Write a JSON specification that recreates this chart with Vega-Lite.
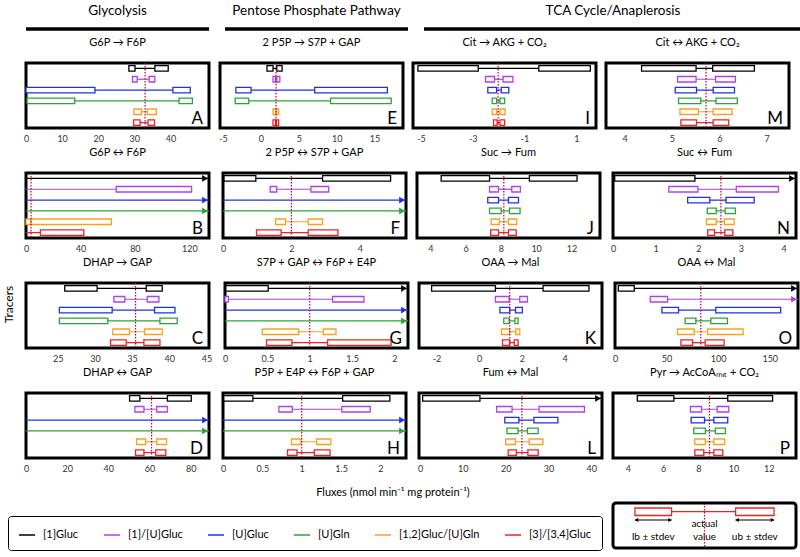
{
"padding":{"left":0,"top":3,"right":0,"bottom":0},
"datasets":{
"flux":[
{"p":"A","t":"[1]Gluc","a0":28.5,"a1":30.2,"b0":35.7,"b1":39.4},
{"p":"A","t":"[1]/[U]Gluc","a0":29.5,"a1":30.8,"b0":34.1,"b1":35.7},
{"p":"A","t":"[U]Gluc","a0":0,"a1":19.1,"b0":40.7,"b1":45.5},
{"p":"A","t":"[U]Gln","a0":0.3,"a1":13.5,"b0":42.4,"b1":46.1},
{"p":"A","t":"[1,2]Gluc/[U]Gln","a0":29.9,"a1":32.0,"b0":33.6,"b1":36.1},
{"p":"A","t":"[3]/[3,4]Gluc","a0":29.8,"a1":31.6,"b0":33.8,"b1":35.6},
{"p":"B","t":"[1]Gluc","a0":0,"b1":134.5,"o":true},
{"p":"B","t":"[1]/[U]Gluc","a0":0,"b0":66.3,"b1":121.7},
{"p":"B","t":"[U]Gluc","a0":0,"b1":134.5,"o":true},
{"p":"B","t":"[U]Gln","a0":0,"b1":134.5,"o":true},
{"p":"B","t":"[1,2]Gluc/[U]Gln","a0":0,"a1":3.7,"b0":3.7,"b1":62.8},
{"p":"B","t":"[3]/[3,4]Gluc","a0":0,"b0":10.6,"b1":42.5},
{"p":"C","t":"[1]Gluc","a0":25.94,"a1":30.3,"b0":36.9,"b1":39.06},
{"p":"C","t":"[1]/[U]Gluc","a0":32.55,"a1":34.03,"b0":37.04,"b1":38.61},
{"p":"C","t":"[U]Gluc","a0":25.22,"a1":32.32,"b0":38.03,"b1":40.77},
{"p":"C","t":"[U]Gln","a0":25.22,"a1":31.74,"b0":38.75,"b1":41.08},
{"p":"C","t":"[1,2]Gluc/[U]Gln","a0":32.41,"a1":34.66,"b0":36.68,"b1":39.06},
{"p":"C","t":"[3]/[3,4]Gluc","a0":32.1,"a1":34.21,"b0":36.59,"b1":38.75},
{"p":"D","t":"[1]Gluc","a0":50.3,"a1":55.3,"b0":68.7,"b1":80.3},
{"p":"D","t":"[1]/[U]Gluc","a0":52.9,"a1":57.3,"b0":63.5,"b1":68.7},
{"p":"D","t":"[U]Gluc","a0":0,"b1":88.9,"o":true},
{"p":"D","t":"[U]Gln","a0":0,"b1":88.9,"o":true},
{"p":"D","t":"[1,2]Gluc/[U]Gln","a0":53.7,"a1":58.1,"b0":63.5,"b1":68.3},
{"p":"D","t":"[3]/[3,4]Gluc","a0":53.2,"a1":57.3,"b0":63.0,"b1":67.9},
{"p":"E","t":"[1]Gluc","a0":0.8,"a1":1.6,"b0":2.1,"b1":2.8},
{"p":"E","t":"[1]/[U]Gluc","a0":1.6,"a1":1.95,"b0":2.1,"b1":2.5},
{"p":"E","t":"[U]Gluc","a0":-3.3,"a1":-1.3,"b0":7.1,"b1":16.7},
{"p":"E","t":"[U]Gln","a0":-3.4,"a1":-1.6,"b0":9.2,"b1":17.2},
{"p":"E","t":"[1,2]Gluc/[U]Gln","a0":1.6,"a1":1.95,"b0":2.05,"b1":2.35},
{"p":"E","t":"[3]/[3,4]Gluc","a0":1.6,"a1":1.95,"b0":2.05,"b1":2.35},
{"p":"F","t":"[1]Gluc","a0":0.03,"a1":0.96,"b0":2.91,"b1":4.9},
{"p":"F","t":"[1]/[U]Gluc","a0":1.38,"a1":1.57,"b0":2.57,"b1":3.09},
{"p":"F","t":"[U]Gluc","a0":0,"b1":5.35,"o":true},
{"p":"F","t":"[U]Gln","a0":0,"b1":5.35,"o":true},
{"p":"F","t":"[1,2]Gluc/[U]Gln","a0":1.54,"a1":1.83,"b0":2.49,"b1":2.91},
{"p":"F","t":"[3]/[3,4]Gluc","a0":0.98,"a1":1.7,"b0":2.49,"b1":3.36},
{"p":"G","t":"[1]Gluc","a0":0.01,"a1":0.51,"b1":2.16,"o":true},
{"p":"G","t":"[1]/[U]Gluc","a0":0,"a1":0.04,"b0":1.27,"b1":1.64},
{"p":"G","t":"[U]Gluc","a0":0,"b1":2.16,"o":true},
{"p":"G","t":"[U]Gln","a0":0,"b1":2.16,"o":true},
{"p":"G","t":"[1,2]Gluc/[U]Gln","a0":0.44,"a1":0.87,"b0":1.16,"b1":1.31},
{"p":"G","t":"[3]/[3,4]Gluc","a0":0.49,"a1":0.79,"b0":1.21,"b1":1.96},
{"p":"H","t":"[1]Gluc","a0":0.01,"a1":0.38,"b0":1.52,"b1":2.12},
{"p":"H","t":"[1]/[U]Gluc","a0":0.71,"a1":0.88,"b0":1.51,"b1":1.87},
{"p":"H","t":"[U]Gluc","a0":0,"b1":2.325,"o":true},
{"p":"H","t":"[U]Gln","a0":0,"b1":2.325,"o":true},
{"p":"H","t":"[1,2]Gluc/[U]Gln","a0":0.87,"a1":0.99,"b0":1.19,"b1":1.37},
{"p":"H","t":"[3]/[3,4]Gluc","a0":0.82,"a1":0.94,"b0":1.16,"b1":1.36},
{"p":"I","t":"[1]Gluc","a0":-5.12,"a1":-2.79,"b0":-0.45,"b1":1.54},
{"p":"I","t":"[1]/[U]Gluc","a0":-2.51,"a1":-2.16,"b0":-1.83,"b1":-1.45},
{"p":"I","t":"[U]Gluc","a0":-2.42,"a1":-2.08,"b0":-1.9,"b1":-1.61},
{"p":"I","t":"[U]Gln","a0":-2.25,"a1":-2.08,"b0":-1.95,"b1":-1.77},
{"p":"I","t":"[1,2]Gluc/[U]Gln","a0":-2.25,"a1":-2.08,"b0":-1.95,"b1":-1.75},
{"p":"I","t":"[3]/[3,4]Gluc","a0":-2.2,"a1":-2.06,"b0":-1.95,"b1":-1.77},
{"p":"J","t":"[1]Gluc","a0":4.62,"a1":7.36,"b0":9.62,"b1":12.32},
{"p":"J","t":"[1]/[U]Gluc","a0":7.36,"a1":7.87,"b0":8.62,"b1":9.11},
{"p":"J","t":"[U]Gluc","a0":7.26,"a1":7.87,"b0":8.43,"b1":9.0},
{"p":"J","t":"[U]Gln","a0":7.36,"a1":8.02,"b0":8.49,"b1":9.09},
{"p":"J","t":"[1,2]Gluc/[U]Gln","a0":7.45,"a1":7.92,"b0":8.43,"b1":8.9},
{"p":"J","t":"[3]/[3,4]Gluc","a0":7.42,"a1":7.87,"b0":8.43,"b1":8.87},
{"p":"K","t":"[1]Gluc","a0":-2.23,"a1":0.76,"b0":2.99,"b1":5.14},
{"p":"K","t":"[1]/[U]Gluc","a0":0.76,"a1":1.4,"b0":1.9,"b1":2.26},
{"p":"K","t":"[U]Gluc","a0":0.97,"a1":1.43,"b0":1.7,"b1":2.02},
{"p":"K","t":"[U]Gln","a0":1.15,"a1":1.4,"b0":1.67,"b1":1.82},
{"p":"K","t":"[1,2]Gluc/[U]Gln","a0":1.04,"a1":1.43,"b0":1.71,"b1":1.9},
{"p":"K","t":"[3]/[3,4]Gluc","a0":1.09,"a1":1.43,"b0":1.64,"b1":1.82},
{"p":"L","t":"[1]Gluc","a0":0.62,"a1":14,"b1":42.5,"o":true},
{"p":"L","t":"[1]/[U]Gluc","a0":17.9,"a1":21.5,"b0":27.8,"b1":38.4},
{"p":"L","t":"[U]Gluc","a0":19.8,"a1":23.1,"b0":26.6,"b1":32.2},
{"p":"L","t":"[U]Gln","a0":20.3,"a1":22.9,"b0":25.1,"b1":27.6},
{"p":"L","t":"[1,2]Gluc/[U]Gln","a0":20.0,"a1":22.3,"b0":25.5,"b1":28.7},
{"p":"L","t":"[3]/[3,4]Gluc","a0":20.6,"a1":22.5,"b0":25.2,"b1":27.6},
{"p":"M","t":"[1]Gluc","a0":4.36,"a1":5.51,"b0":5.86,"b1":6.74},
{"p":"M","t":"[1]/[U]Gluc","a0":5.12,"a1":5.51,"b0":5.92,"b1":6.34},
{"p":"M","t":"[U]Gluc","a0":5.07,"a1":5.52,"b0":5.87,"b1":6.32},
{"p":"M","t":"[U]Gln","a0":5.14,"a1":5.61,"b0":5.93,"b1":6.38},
{"p":"M","t":"[1,2]Gluc/[U]Gln","a0":5.17,"a1":5.56,"b0":5.87,"b1":6.27},
{"p":"M","t":"[3]/[3,4]Gluc","a0":5.19,"a1":5.52,"b0":5.87,"b1":6.2},
{"p":"N","t":"[1]Gluc","a0":0.04,"a1":1.92,"b1":4.29,"o":true},
{"p":"N","t":"[1]/[U]Gluc","a0":1.31,"a1":1.99,"b0":2.89,"b1":3.88},
{"p":"N","t":"[U]Gluc","a0":1.75,"a1":2.27,"b0":2.65,"b1":3.31},
{"p":"N","t":"[U]Gln","a0":2.21,"a1":2.42,"b0":2.63,"b1":2.87},
{"p":"N","t":"[1,2]Gluc/[U]Gln","a0":2.19,"a1":2.42,"b0":2.61,"b1":2.84},
{"p":"N","t":"[3]/[3,4]Gluc","a0":2.22,"a1":2.38,"b0":2.62,"b1":2.81},
{"p":"O","t":"[1]Gluc","a0":3.2,"a1":18.7,"b1":177.4,"o":true},
{"p":"O","t":"[1]/[U]Gluc","a0":34.2,"a1":51,"b1":177.4,"o":true},
{"p":"O","t":"[U]Gluc","a0":45.5,"a1":61.6,"b0":97.7,"b1":160.6},
{"p":"O","t":"[U]Gln","a0":68,"a1":78.4,"b0":92.9,"b1":109},
{"p":"O","t":"[1,2]Gluc/[U]Gln","a0":60.6,"a1":76.8,"b0":89.7,"b1":124.2},
{"p":"O","t":"[3]/[3,4]Gluc","a0":63.9,"a1":75.2,"b0":87.4,"b1":105.8},
{"p":"P","t":"[1]Gluc","a0":4.53,"a1":6.61,"b0":9.67,"b1":12.22},
{"p":"P","t":"[1]/[U]Gluc","a0":7.55,"a1":8.18,"b0":9.07,"b1":9.73},
{"p":"P","t":"[U]Gluc","a0":7.59,"a1":8.35,"b0":8.88,"b1":9.67},
{"p":"P","t":"[U]Gln","a0":7.74,"a1":8.4,"b0":8.97,"b1":9.54},
{"p":"P","t":"[1,2]Gluc/[U]Gln","a0":7.8,"a1":8.4,"b0":8.88,"b1":9.5},
{"p":"P","t":"[3]/[3,4]Gluc","a0":7.8,"a1":8.31,"b0":8.88,"b1":9.39}
],
"info":[
{"p":"A","v":33.0},{"p":"B","v":3.7},{"p":"C","v":35.47},{"p":"D","v":61.0},
{"p":"E","v":2.0},{"p":"F","v":2.0},{"p":"G","v":1.0},{"p":"H","v":1.0},
{"p":"I","v":-2.02},{"p":"J","v":8.17},{"p":"K","v":1.43},{"p":"L","v":23.8},
{"p":"M","v":5.72},{"p":"N","v":2.53},{"p":"O","v":83.2},{"p":"P","v":8.63}
],
"key":[{"lb0":12,"lb1":32,"ub0":67,"ub1":88,"act":50}]
},
"spacing":0,
"vconcat":[
{"spacing":12,"hconcat":[
{"width":183,"height":32,"view":{"stroke":null},"data":{"values":[{"s":"Glycolysis"}]},"layer":[
{"mark":{"type":"rule","strokeWidth":3.5,"color":"black"},"encoding":{"y":{"datum":0.1875,"type":"quantitative","scale":{"domain":[0,1],"nice":false,"zero":false},"axis":{"title":"T","titleOpacity":0,"labels":false,"ticks":false,"domain":false,"titleX":-18,"titleY":16,"titleAlign":"center","titleBaseline":"middle","titleFontSize":12}}}},
{"mark":{"type":"text","fontSize":13.5,"baseline":"bottom","align":"center"},"encoding":{"text":{"field":"s"},"x":{"datum":0.5,"type":"quantitative","scale":{"domain":[0,1],"nice":false,"zero":false},"axis":null},"y":{"datum":0.531,"type":"quantitative"}}}]},
{"width":183,"height":32,"view":{"stroke":null},"data":{"values":[{"s":"Pentose Phosphate Pathway"}]},"layer":[
{"mark":{"type":"rule","strokeWidth":3.5,"color":"black"},"encoding":{"y":{"datum":0.1875,"type":"quantitative","scale":{"domain":[0,1],"nice":false,"zero":false},"axis":null}}},
{"mark":{"type":"text","fontSize":13.5,"baseline":"bottom","align":"center"},"encoding":{"text":{"field":"s"},"x":{"datum":0.5,"type":"quantitative","scale":{"domain":[0,1],"nice":false,"zero":false},"axis":null},"y":{"datum":0.531,"type":"quantitative","axis":null}}}]},
{"width":378,"height":32,"view":{"stroke":null},"data":{"values":[{"s":"TCA Cycle/Anaplerosis"}]},"layer":[
{"mark":{"type":"rule","strokeWidth":3.5,"color":"black"},"encoding":{"y":{"datum":0.1875,"type":"quantitative","scale":{"domain":[0,1],"nice":false,"zero":false},"axis":null}}},
{"mark":{"type":"text","fontSize":13.5,"baseline":"bottom","align":"center"},"encoding":{"text":{"field":"s"},"x":{"datum":0.5,"type":"quantitative","scale":{"domain":[0,1],"nice":false,"zero":false},"axis":null},"y":{"datum":0.531,"type":"quantitative","axis":null}}}]}
]},

{"spacing":6,"hconcat":[
{"width":183,"height":65,"title":"G6P → F6P","data":{"name":"flux"},"transform":[{"filter":"datum.p==='A'"}],"layer":[
{"mark":{"type":"rule","strokeWidth":1.2},"encoding":{"x":{"field":"a0","type":"quantitative","scale":{"domain":[0,50.7],"nice":false,"zero":false},"axis":{"values":[0,10,20,30,40],"labelExpr":"''+datum.value","title":null}},"x2":{"field":"b1"},"y":{"field":"t","type":"nominal","scale":{"domain":["[1]Gluc","[1]/[U]Gluc","[U]Gluc","[U]Gln","[1,2]Gluc/[U]Gln","[3]/[3,4]Gluc"]},"axis":{"title":"T","titleOpacity":0,"labels":false,"ticks":false,"domain":false,"titleX":-18,"titleY":30,"titleAlign":"center","titleBaseline":"middle","titleFontSize":12}},"stroke":{"field":"t","type":"nominal","scale":{"domain":["[1]Gluc","[1]/[U]Gluc","[U]Gluc","[U]Gln","[1,2]Gluc/[U]Gln","[3]/[3,4]Gluc"],"range":["#000000","#b040ee","#2030e6","#2ea23a","#f8a020","#f02222"]},"legend":{"title":null,"orient":"none","legendX":-18,"legendY":513,"direction":"horizontal","symbolType":"stroke","symbolSize":256,"symbolStrokeWidth":1.5,"labelFontSize":11,"labelOffset":7,"columnPadding":22,"padding":10,"strokeColor":"black","cornerRadius":3}}}},
{"transform":[{"filter":"isValid(datum.a1)"}],"mark":{"type":"bar","size":5.5,"fill":"white","strokeWidth":1.3},"encoding":{"x":{"field":"a0","type":"quantitative"},"x2":{"field":"a1"},"y":{"field":"t","type":"nominal"},"stroke":{"field":"t","type":"nominal"}}},
{"transform":[{"filter":"isValid(datum.b0)"}],"mark":{"type":"bar","size":5.5,"fill":"white","strokeWidth":1.3},"encoding":{"x":{"field":"b0","type":"quantitative"},"x2":{"field":"b1"},"y":{"field":"t","type":"nominal"},"stroke":{"field":"t","type":"nominal"}}},
{"data":{"name":"info"},"transform":[{"filter":"datum.p==='A'"}],"mark":{"type":"rule","color":"#c0003c","strokeDash":[1.5,1.5],"strokeWidth":1.2},"encoding":{"x":{"field":"v","type":"quantitative"}}},
{"data":{"name":"info"},"transform":[{"filter":"datum.p==='A'"}],"mark":{"type":"text","align":"right","baseline":"alphabetic","dx":-6,"dy":1,"fontSize":17},"encoding":{"text":{"field":"p"},"x":{"datum":50.7,"type":"quantitative"},"y":{"datum":"[3]/[3,4]Gluc","type":"nominal"}}}]},
{"width":183,"height":65,"title":"2 P5P → S7P + GAP","data":{"name":"flux"},"transform":[{"filter":"datum.p==='E'"}],"layer":[
{"mark":{"type":"rule","strokeWidth":1.2},"encoding":{"x":{"field":"a0","type":"quantitative","scale":{"domain":[-5.4,18.76],"nice":false,"zero":false},"axis":{"values":[-5,0,5,10,15],"labelExpr":"''+datum.value","title":null}},"x2":{"field":"b1"},"y":{"field":"t","type":"nominal","scale":{"domain":["[1]Gluc","[1]/[U]Gluc","[U]Gluc","[U]Gln","[1,2]Gluc/[U]Gln","[3]/[3,4]Gluc"]},"axis":null},"stroke":{"field":"t","type":"nominal"}}},
{"transform":[{"filter":"isValid(datum.a1)"}],"mark":{"type":"bar","size":5.5,"fill":"white","strokeWidth":1.3},"encoding":{"x":{"field":"a0","type":"quantitative"},"x2":{"field":"a1"},"y":{"field":"t","type":"nominal","axis":null},"stroke":{"field":"t","type":"nominal"}}},
{"transform":[{"filter":"isValid(datum.b0)"}],"mark":{"type":"bar","size":5.5,"fill":"white","strokeWidth":1.3},"encoding":{"x":{"field":"b0","type":"quantitative"},"x2":{"field":"b1"},"y":{"field":"t","type":"nominal","axis":null},"stroke":{"field":"t","type":"nominal"}}},
{"data":{"name":"info"},"transform":[{"filter":"datum.p==='E'"}],"mark":{"type":"rule","color":"#c0003c","strokeDash":[1.5,1.5],"strokeWidth":1.2},"encoding":{"x":{"field":"v","type":"quantitative"}}},
{"data":{"name":"info"},"transform":[{"filter":"datum.p==='E'"}],"mark":{"type":"text","align":"right","baseline":"alphabetic","dx":-6,"dy":1,"fontSize":17},"encoding":{"text":{"field":"p"},"x":{"datum":18.76,"type":"quantitative"},"y":{"datum":"[3]/[3,4]Gluc","type":"nominal","axis":null}}}]},
{"width":183,"height":65,"title":"Cit → AKG + CO₂","data":{"name":"flux"},"transform":[{"filter":"datum.p==='I'"}],"layer":[
{"mark":{"type":"rule","strokeWidth":1.2},"encoding":{"x":{"field":"a0","type":"quantitative","scale":{"domain":[-5.31,1.76],"nice":false,"zero":false},"axis":{"values":[-5,-4,-3,-2,-1,0,1],"labelExpr":"''+datum.value","title":null}},"x2":{"field":"b1"},"y":{"field":"t","type":"nominal","scale":{"domain":["[1]Gluc","[1]/[U]Gluc","[U]Gluc","[U]Gln","[1,2]Gluc/[U]Gln","[3]/[3,4]Gluc"]},"axis":null},"stroke":{"field":"t","type":"nominal"}}},
{"transform":[{"filter":"isValid(datum.a1)"}],"mark":{"type":"bar","size":5.5,"fill":"white","strokeWidth":1.3},"encoding":{"x":{"field":"a0","type":"quantitative"},"x2":{"field":"a1"},"y":{"field":"t","type":"nominal","axis":null},"stroke":{"field":"t","type":"nominal"}}},
{"transform":[{"filter":"isValid(datum.b0)"}],"mark":{"type":"bar","size":5.5,"fill":"white","strokeWidth":1.3},"encoding":{"x":{"field":"b0","type":"quantitative"},"x2":{"field":"b1"},"y":{"field":"t","type":"nominal","axis":null},"stroke":{"field":"t","type":"nominal"}}},
{"data":{"name":"info"},"transform":[{"filter":"datum.p==='I'"}],"mark":{"type":"rule","color":"#c0003c","strokeDash":[1.5,1.5],"strokeWidth":1.2},"encoding":{"x":{"field":"v","type":"quantitative"}}},
{"data":{"name":"info"},"transform":[{"filter":"datum.p==='I'"}],"mark":{"type":"text","align":"right","baseline":"alphabetic","dx":-6,"dy":1,"fontSize":17},"encoding":{"text":{"field":"p"},"x":{"datum":1.76,"type":"quantitative"},"y":{"datum":"[3]/[3,4]Gluc","type":"nominal","axis":null}}}]},
{"width":183,"height":65,"title":"Cit ↔ AKG + CO₂","data":{"name":"flux"},"transform":[{"filter":"datum.p==='M'"}],"layer":[
{"mark":{"type":"rule","strokeWidth":1.2},"encoding":{"x":{"field":"a0","type":"quantitative","scale":{"domain":[3.61,7.47],"nice":false,"zero":false},"axis":{"values":[4,4.5,5,5.5,6,6.5,7],"labelExpr":"''+datum.value","title":null}},"x2":{"field":"b1"},"y":{"field":"t","type":"nominal","scale":{"domain":["[1]Gluc","[1]/[U]Gluc","[U]Gluc","[U]Gln","[1,2]Gluc/[U]Gln","[3]/[3,4]Gluc"]},"axis":null},"stroke":{"field":"t","type":"nominal"}}},
{"transform":[{"filter":"isValid(datum.a1)"}],"mark":{"type":"bar","size":5.5,"fill":"white","strokeWidth":1.3},"encoding":{"x":{"field":"a0","type":"quantitative"},"x2":{"field":"a1"},"y":{"field":"t","type":"nominal","axis":null},"stroke":{"field":"t","type":"nominal"}}},
{"transform":[{"filter":"isValid(datum.b0)"}],"mark":{"type":"bar","size":5.5,"fill":"white","strokeWidth":1.3},"encoding":{"x":{"field":"b0","type":"quantitative"},"x2":{"field":"b1"},"y":{"field":"t","type":"nominal","axis":null},"stroke":{"field":"t","type":"nominal"}}},
{"data":{"name":"info"},"transform":[{"filter":"datum.p==='M'"}],"mark":{"type":"rule","color":"#c0003c","strokeDash":[1.5,1.5],"strokeWidth":1.2},"encoding":{"x":{"field":"v","type":"quantitative"}}},
{"data":{"name":"info"},"transform":[{"filter":"datum.p==='M'"}],"mark":{"type":"text","align":"right","baseline":"alphabetic","dx":-6,"dy":1,"fontSize":17},"encoding":{"text":{"field":"p"},"x":{"datum":7.47,"type":"quantitative"},"y":{"datum":"[3]/[3,4]Gluc","type":"nominal","axis":null}}}]}
]},

{"spacing":6,"hconcat":[
{"width":183,"height":65,"title":"G6P ↔ F6P","data":{"name":"flux"},"transform":[{"filter":"datum.p==='B'"}],"layer":[
{"mark":{"type":"rule","strokeWidth":1.2},"encoding":{"x":{"field":"a0","type":"quantitative","scale":{"domain":[0,134.5],"nice":false,"zero":false},"axis":{"values":[0,20,40,60,80,100,120],"labelExpr":"''+datum.value","title":null}},"x2":{"field":"b1"},"y":{"field":"t","type":"nominal","scale":{"domain":["[1]Gluc","[1]/[U]Gluc","[U]Gluc","[U]Gln","[1,2]Gluc/[U]Gln","[3]/[3,4]Gluc"]},"axis":{"title":"T","titleOpacity":0,"labels":false,"ticks":false,"domain":false,"titleX":-18,"titleY":30,"titleAlign":"center","titleBaseline":"middle","titleFontSize":12}},"stroke":{"field":"t","type":"nominal"}}},
{"transform":[{"filter":"isValid(datum.a1)"}],"mark":{"type":"bar","size":5.5,"fill":"white","strokeWidth":1.3},"encoding":{"x":{"field":"a0","type":"quantitative"},"x2":{"field":"a1"},"y":{"field":"t","type":"nominal"},"stroke":{"field":"t","type":"nominal"}}},
{"transform":[{"filter":"isValid(datum.b0)"}],"mark":{"type":"bar","size":5.5,"fill":"white","strokeWidth":1.3},"encoding":{"x":{"field":"b0","type":"quantitative"},"x2":{"field":"b1"},"y":{"field":"t","type":"nominal"},"stroke":{"field":"t","type":"nominal"}}},
{"transform":[{"filter":"datum.o"}],"mark":{"type":"point","shape":"triangle-right","filled":true,"size":45,"xOffset":-4,"opacity":1},"encoding":{"x":{"field":"b1","type":"quantitative"},"y":{"field":"t","type":"nominal"},"fill":{"field":"t","type":"nominal","scale":{"domain":["[1]Gluc","[1]/[U]Gluc","[U]Gluc","[U]Gln","[1,2]Gluc/[U]Gln","[3]/[3,4]Gluc"],"range":["#000000","#b040ee","#2030e6","#2ea23a","#f8a020","#f02222"]},"legend":null}}},
{"data":{"name":"info"},"transform":[{"filter":"datum.p==='B'"}],"mark":{"type":"rule","color":"#c0003c","strokeDash":[1.5,1.5],"strokeWidth":1.2},"encoding":{"x":{"field":"v","type":"quantitative"}}},
{"data":{"name":"info"},"transform":[{"filter":"datum.p==='B'"}],"mark":{"type":"text","align":"right","baseline":"alphabetic","dx":-6,"dy":1,"fontSize":17},"encoding":{"text":{"field":"p"},"x":{"datum":134.5,"type":"quantitative"},"y":{"datum":"[3]/[3,4]Gluc","type":"nominal"}}}]},
{"width":183,"height":65,"title":"2 P5P ↔ S7P + GAP","data":{"name":"flux"},"transform":[{"filter":"datum.p==='F'"}],"layer":[
{"mark":{"type":"rule","strokeWidth":1.2},"encoding":{"x":{"field":"a0","type":"quantitative","scale":{"domain":[0,5.35],"nice":false,"zero":false},"axis":{"values":[0,1,2,3,4,5],"labelExpr":"''+datum.value","title":null}},"x2":{"field":"b1"},"y":{"field":"t","type":"nominal","scale":{"domain":["[1]Gluc","[1]/[U]Gluc","[U]Gluc","[U]Gln","[1,2]Gluc/[U]Gln","[3]/[3,4]Gluc"]},"axis":null},"stroke":{"field":"t","type":"nominal"}}},
{"transform":[{"filter":"isValid(datum.a1)"}],"mark":{"type":"bar","size":5.5,"fill":"white","strokeWidth":1.3},"encoding":{"x":{"field":"a0","type":"quantitative"},"x2":{"field":"a1"},"y":{"field":"t","type":"nominal","axis":null},"stroke":{"field":"t","type":"nominal"}}},
{"transform":[{"filter":"isValid(datum.b0)"}],"mark":{"type":"bar","size":5.5,"fill":"white","strokeWidth":1.3},"encoding":{"x":{"field":"b0","type":"quantitative"},"x2":{"field":"b1"},"y":{"field":"t","type":"nominal","axis":null},"stroke":{"field":"t","type":"nominal"}}},
{"transform":[{"filter":"datum.o"}],"mark":{"type":"point","shape":"triangle-right","filled":true,"size":45,"xOffset":-4,"opacity":1},"encoding":{"x":{"field":"b1","type":"quantitative"},"y":{"field":"t","type":"nominal","axis":null},"fill":{"field":"t","type":"nominal","legend":null}}},
{"data":{"name":"info"},"transform":[{"filter":"datum.p==='F'"}],"mark":{"type":"rule","color":"#c0003c","strokeDash":[1.5,1.5],"strokeWidth":1.2},"encoding":{"x":{"field":"v","type":"quantitative"}}},
{"data":{"name":"info"},"transform":[{"filter":"datum.p==='F'"}],"mark":{"type":"text","align":"right","baseline":"alphabetic","dx":-6,"dy":1,"fontSize":17},"encoding":{"text":{"field":"p"},"x":{"datum":5.35,"type":"quantitative"},"y":{"datum":"[3]/[3,4]Gluc","type":"nominal","axis":null}}}]},
{"width":183,"height":65,"title":"Suc → Fum","data":{"name":"flux"},"transform":[{"filter":"datum.p==='J'"}],"layer":[
{"mark":{"type":"rule","strokeWidth":1.2},"encoding":{"x":{"field":"a0","type":"quantitative","scale":{"domain":[3.25,13.62],"nice":false,"zero":false},"axis":{"values":[4,6,8,10,12],"labelExpr":"''+datum.value","title":null}},"x2":{"field":"b1"},"y":{"field":"t","type":"nominal","scale":{"domain":["[1]Gluc","[1]/[U]Gluc","[U]Gluc","[U]Gln","[1,2]Gluc/[U]Gln","[3]/[3,4]Gluc"]},"axis":null},"stroke":{"field":"t","type":"nominal"}}},
{"transform":[{"filter":"isValid(datum.a1)"}],"mark":{"type":"bar","size":5.5,"fill":"white","strokeWidth":1.3},"encoding":{"x":{"field":"a0","type":"quantitative"},"x2":{"field":"a1"},"y":{"field":"t","type":"nominal","axis":null},"stroke":{"field":"t","type":"nominal"}}},
{"transform":[{"filter":"isValid(datum.b0)"}],"mark":{"type":"bar","size":5.5,"fill":"white","strokeWidth":1.3},"encoding":{"x":{"field":"b0","type":"quantitative"},"x2":{"field":"b1"},"y":{"field":"t","type":"nominal","axis":null},"stroke":{"field":"t","type":"nominal"}}},
{"data":{"name":"info"},"transform":[{"filter":"datum.p==='J'"}],"mark":{"type":"rule","color":"#c0003c","strokeDash":[1.5,1.5],"strokeWidth":1.2},"encoding":{"x":{"field":"v","type":"quantitative"}}},
{"data":{"name":"info"},"transform":[{"filter":"datum.p==='J'"}],"mark":{"type":"text","align":"right","baseline":"alphabetic","dx":-6,"dy":1,"fontSize":17},"encoding":{"text":{"field":"p"},"x":{"datum":13.62,"type":"quantitative"},"y":{"datum":"[3]/[3,4]Gluc","type":"nominal","axis":null}}}]},
{"width":183,"height":65,"title":"Suc ↔ Fum","data":{"name":"flux"},"transform":[{"filter":"datum.p==='N'"}],"layer":[
{"mark":{"type":"rule","strokeWidth":1.2},"encoding":{"x":{"field":"a0","type":"quantitative","scale":{"domain":[0,4.29],"nice":false,"zero":false},"axis":{"values":[0,1,2,3,4],"labelExpr":"''+datum.value","title":null}},"x2":{"field":"b1"},"y":{"field":"t","type":"nominal","scale":{"domain":["[1]Gluc","[1]/[U]Gluc","[U]Gluc","[U]Gln","[1,2]Gluc/[U]Gln","[3]/[3,4]Gluc"]},"axis":null},"stroke":{"field":"t","type":"nominal"}}},
{"transform":[{"filter":"isValid(datum.a1)"}],"mark":{"type":"bar","size":5.5,"fill":"white","strokeWidth":1.3},"encoding":{"x":{"field":"a0","type":"quantitative"},"x2":{"field":"a1"},"y":{"field":"t","type":"nominal","axis":null},"stroke":{"field":"t","type":"nominal"}}},
{"transform":[{"filter":"isValid(datum.b0)"}],"mark":{"type":"bar","size":5.5,"fill":"white","strokeWidth":1.3},"encoding":{"x":{"field":"b0","type":"quantitative"},"x2":{"field":"b1"},"y":{"field":"t","type":"nominal","axis":null},"stroke":{"field":"t","type":"nominal"}}},
{"transform":[{"filter":"datum.o"}],"mark":{"type":"point","shape":"triangle-right","filled":true,"size":45,"xOffset":-4,"opacity":1},"encoding":{"x":{"field":"b1","type":"quantitative"},"y":{"field":"t","type":"nominal","axis":null},"fill":{"field":"t","type":"nominal","legend":null}}},
{"data":{"name":"info"},"transform":[{"filter":"datum.p==='N'"}],"mark":{"type":"rule","color":"#c0003c","strokeDash":[1.5,1.5],"strokeWidth":1.2},"encoding":{"x":{"field":"v","type":"quantitative"}}},
{"data":{"name":"info"},"transform":[{"filter":"datum.p==='N'"}],"mark":{"type":"text","align":"right","baseline":"alphabetic","dx":-6,"dy":1,"fontSize":17},"encoding":{"text":{"field":"p"},"x":{"datum":4.29,"type":"quantitative"},"y":{"datum":"[3]/[3,4]Gluc","type":"nominal","axis":null}}}]}
]},

{"spacing":6,"hconcat":[
{"width":183,"height":65,"title":"DHAP → GAP","data":{"name":"flux"},"transform":[{"filter":"datum.p==='C'"}],"layer":[
{"mark":{"type":"rule","strokeWidth":1.2},"encoding":{"x":{"field":"a0","type":"quantitative","scale":{"domain":[20.73,45.35],"nice":false,"zero":false},"axis":{"values":[25,30,35,40,45],"labelExpr":"''+datum.value","title":null}},"x2":{"field":"b1"},"y":{"field":"t","type":"nominal","scale":{"domain":["[1]Gluc","[1]/[U]Gluc","[U]Gluc","[U]Gln","[1,2]Gluc/[U]Gln","[3]/[3,4]Gluc"]},"axis":{"title":"Tracers","labels":false,"ticks":false,"domain":false,"titleX":-18,"titleY":21,"titleAlign":"center","titleBaseline":"middle","titleFontSize":12,"titleFontWeight":"normal","titleColor":"black"}},"stroke":{"field":"t","type":"nominal"}}},
{"transform":[{"filter":"isValid(datum.a1)"}],"mark":{"type":"bar","size":5.5,"fill":"white","strokeWidth":1.3},"encoding":{"x":{"field":"a0","type":"quantitative"},"x2":{"field":"a1"},"y":{"field":"t","type":"nominal"},"stroke":{"field":"t","type":"nominal"}}},
{"transform":[{"filter":"isValid(datum.b0)"}],"mark":{"type":"bar","size":5.5,"fill":"white","strokeWidth":1.3},"encoding":{"x":{"field":"b0","type":"quantitative"},"x2":{"field":"b1"},"y":{"field":"t","type":"nominal"},"stroke":{"field":"t","type":"nominal"}}},
{"data":{"name":"info"},"transform":[{"filter":"datum.p==='C'"}],"mark":{"type":"rule","color":"#c0003c","strokeDash":[1.5,1.5],"strokeWidth":1.2},"encoding":{"x":{"field":"v","type":"quantitative"}}},
{"data":{"name":"info"},"transform":[{"filter":"datum.p==='C'"}],"mark":{"type":"text","align":"right","baseline":"alphabetic","dx":-6,"dy":1,"fontSize":17},"encoding":{"text":{"field":"p"},"x":{"datum":45.35,"type":"quantitative"},"y":{"datum":"[3]/[3,4]Gluc","type":"nominal"}}}]},
{"width":183,"height":65,"title":"S7P + GAP ↔ F6P + E4P","data":{"name":"flux"},"transform":[{"filter":"datum.p==='G'"}],"layer":[
{"mark":{"type":"rule","strokeWidth":1.2},"encoding":{"x":{"field":"a0","type":"quantitative","scale":{"domain":[0,2.16],"nice":false,"zero":false},"axis":{"values":[0,0.5,1,1.5,2],"labelExpr":"''+datum.value","title":null}},"x2":{"field":"b1"},"y":{"field":"t","type":"nominal","scale":{"domain":["[1]Gluc","[1]/[U]Gluc","[U]Gluc","[U]Gln","[1,2]Gluc/[U]Gln","[3]/[3,4]Gluc"]},"axis":null},"stroke":{"field":"t","type":"nominal"}}},
{"transform":[{"filter":"isValid(datum.a1)"}],"mark":{"type":"bar","size":5.5,"fill":"white","strokeWidth":1.3},"encoding":{"x":{"field":"a0","type":"quantitative"},"x2":{"field":"a1"},"y":{"field":"t","type":"nominal","axis":null},"stroke":{"field":"t","type":"nominal"}}},
{"transform":[{"filter":"isValid(datum.b0)"}],"mark":{"type":"bar","size":5.5,"fill":"white","strokeWidth":1.3},"encoding":{"x":{"field":"b0","type":"quantitative"},"x2":{"field":"b1"},"y":{"field":"t","type":"nominal","axis":null},"stroke":{"field":"t","type":"nominal"}}},
{"transform":[{"filter":"datum.o"}],"mark":{"type":"point","shape":"triangle-right","filled":true,"size":45,"xOffset":-4,"opacity":1},"encoding":{"x":{"field":"b1","type":"quantitative"},"y":{"field":"t","type":"nominal","axis":null},"fill":{"field":"t","type":"nominal","legend":null}}},
{"data":{"name":"info"},"transform":[{"filter":"datum.p==='G'"}],"mark":{"type":"rule","color":"#c0003c","strokeDash":[1.5,1.5],"strokeWidth":1.2},"encoding":{"x":{"field":"v","type":"quantitative"}}},
{"data":{"name":"info"},"transform":[{"filter":"datum.p==='G'"}],"mark":{"type":"text","align":"right","baseline":"alphabetic","dx":-6,"dy":1,"fontSize":17},"encoding":{"text":{"field":"p"},"x":{"datum":2.16,"type":"quantitative"},"y":{"datum":"[3]/[3,4]Gluc","type":"nominal","axis":null}}}]},
{"width":183,"height":65,"title":"OAA → Mal","data":{"name":"flux"},"transform":[{"filter":"datum.p==='K'"}],"layer":[
{"mark":{"type":"rule","strokeWidth":1.2},"encoding":{"x":{"field":"a0","type":"quantitative","scale":{"domain":[-2.82,5.75],"nice":false,"zero":false},"axis":{"values":[-2,0,2,4],"labelExpr":"''+datum.value","title":null}},"x2":{"field":"b1"},"y":{"field":"t","type":"nominal","scale":{"domain":["[1]Gluc","[1]/[U]Gluc","[U]Gluc","[U]Gln","[1,2]Gluc/[U]Gln","[3]/[3,4]Gluc"]},"axis":null},"stroke":{"field":"t","type":"nominal"}}},
{"transform":[{"filter":"isValid(datum.a1)"}],"mark":{"type":"bar","size":5.5,"fill":"white","strokeWidth":1.3},"encoding":{"x":{"field":"a0","type":"quantitative"},"x2":{"field":"a1"},"y":{"field":"t","type":"nominal","axis":null},"stroke":{"field":"t","type":"nominal"}}},
{"transform":[{"filter":"isValid(datum.b0)"}],"mark":{"type":"bar","size":5.5,"fill":"white","strokeWidth":1.3},"encoding":{"x":{"field":"b0","type":"quantitative"},"x2":{"field":"b1"},"y":{"field":"t","type":"nominal","axis":null},"stroke":{"field":"t","type":"nominal"}}},
{"data":{"name":"info"},"transform":[{"filter":"datum.p==='K'"}],"mark":{"type":"rule","color":"#c0003c","strokeDash":[1.5,1.5],"strokeWidth":1.2},"encoding":{"x":{"field":"v","type":"quantitative"}}},
{"data":{"name":"info"},"transform":[{"filter":"datum.p==='K'"}],"mark":{"type":"text","align":"right","baseline":"alphabetic","dx":-6,"dy":1,"fontSize":17},"encoding":{"text":{"field":"p"},"x":{"datum":5.75,"type":"quantitative"},"y":{"datum":"[3]/[3,4]Gluc","type":"nominal","axis":null}}}]},
{"width":183,"height":65,"title":"OAA ↔ Mal","data":{"name":"flux"},"transform":[{"filter":"datum.p==='O'"}],"layer":[
{"mark":{"type":"rule","strokeWidth":1.2},"encoding":{"x":{"field":"a0","type":"quantitative","scale":{"domain":[0,177.4],"nice":false,"zero":false},"axis":{"values":[0,50,100,150],"labelExpr":"''+datum.value","title":null}},"x2":{"field":"b1"},"y":{"field":"t","type":"nominal","scale":{"domain":["[1]Gluc","[1]/[U]Gluc","[U]Gluc","[U]Gln","[1,2]Gluc/[U]Gln","[3]/[3,4]Gluc"]},"axis":null},"stroke":{"field":"t","type":"nominal"}}},
{"transform":[{"filter":"isValid(datum.a1)"}],"mark":{"type":"bar","size":5.5,"fill":"white","strokeWidth":1.3},"encoding":{"x":{"field":"a0","type":"quantitative"},"x2":{"field":"a1"},"y":{"field":"t","type":"nominal","axis":null},"stroke":{"field":"t","type":"nominal"}}},
{"transform":[{"filter":"isValid(datum.b0)"}],"mark":{"type":"bar","size":5.5,"fill":"white","strokeWidth":1.3},"encoding":{"x":{"field":"b0","type":"quantitative"},"x2":{"field":"b1"},"y":{"field":"t","type":"nominal","axis":null},"stroke":{"field":"t","type":"nominal"}}},
{"transform":[{"filter":"datum.o"}],"mark":{"type":"point","shape":"triangle-right","filled":true,"size":45,"xOffset":-4,"opacity":1},"encoding":{"x":{"field":"b1","type":"quantitative"},"y":{"field":"t","type":"nominal","axis":null},"fill":{"field":"t","type":"nominal","legend":null}}},
{"data":{"name":"info"},"transform":[{"filter":"datum.p==='O'"}],"mark":{"type":"rule","color":"#c0003c","strokeDash":[1.5,1.5],"strokeWidth":1.2},"encoding":{"x":{"field":"v","type":"quantitative"}}},
{"data":{"name":"info"},"transform":[{"filter":"datum.p==='O'"}],"mark":{"type":"text","align":"right","baseline":"alphabetic","dx":-6,"dy":1,"fontSize":17},"encoding":{"text":{"field":"p"},"x":{"datum":177.4,"type":"quantitative"},"y":{"datum":"[3]/[3,4]Gluc","type":"nominal","axis":null}}}]}
]},

{"spacing":6,"hconcat":[
{"width":183,"height":65,"title":"DHAP ↔ GAP","data":{"name":"flux"},"transform":[{"filter":"datum.p==='D'"}],"layer":[
{"mark":{"type":"rule","strokeWidth":1.2},"encoding":{"x":{"field":"a0","type":"quantitative","scale":{"domain":[0,88.9],"nice":false,"zero":false},"axis":{"values":[0,20,40,60,80],"labelExpr":"''+datum.value","title":null}},"x2":{"field":"b1"},"y":{"field":"t","type":"nominal","scale":{"domain":["[1]Gluc","[1]/[U]Gluc","[U]Gluc","[U]Gln","[1,2]Gluc/[U]Gln","[3]/[3,4]Gluc"]},"axis":{"title":"T","titleOpacity":0,"labels":false,"ticks":false,"domain":false,"titleX":-18,"titleY":30,"titleAlign":"center","titleBaseline":"middle","titleFontSize":12}},"stroke":{"field":"t","type":"nominal"}}},
{"transform":[{"filter":"isValid(datum.a1)"}],"mark":{"type":"bar","size":5.5,"fill":"white","strokeWidth":1.3},"encoding":{"x":{"field":"a0","type":"quantitative"},"x2":{"field":"a1"},"y":{"field":"t","type":"nominal"},"stroke":{"field":"t","type":"nominal"}}},
{"transform":[{"filter":"isValid(datum.b0)"}],"mark":{"type":"bar","size":5.5,"fill":"white","strokeWidth":1.3},"encoding":{"x":{"field":"b0","type":"quantitative"},"x2":{"field":"b1"},"y":{"field":"t","type":"nominal"},"stroke":{"field":"t","type":"nominal"}}},
{"transform":[{"filter":"datum.o"}],"mark":{"type":"point","shape":"triangle-right","filled":true,"size":45,"xOffset":-4,"opacity":1},"encoding":{"x":{"field":"b1","type":"quantitative"},"y":{"field":"t","type":"nominal"},"fill":{"field":"t","type":"nominal","legend":null}}},
{"data":{"name":"info"},"transform":[{"filter":"datum.p==='D'"}],"mark":{"type":"rule","color":"#c0003c","strokeDash":[1.5,1.5],"strokeWidth":1.2},"encoding":{"x":{"field":"v","type":"quantitative"}}},
{"data":{"name":"info"},"transform":[{"filter":"datum.p==='D'"}],"mark":{"type":"text","align":"right","baseline":"alphabetic","dx":-6,"dy":1,"fontSize":17},"encoding":{"text":{"field":"p"},"x":{"datum":88.9,"type":"quantitative"},"y":{"datum":"[3]/[3,4]Gluc","type":"nominal"}}}]},
{"width":183,"height":65,"title":"P5P + E4P ↔ F6P + GAP","data":{"name":"flux"},"transform":[{"filter":"datum.p==='H'"}],"layer":[
{"mark":{"type":"rule","strokeWidth":1.2},"encoding":{"x":{"field":"a0","type":"quantitative","scale":{"domain":[0,2.325],"nice":false,"zero":false},"axis":{"values":[0,0.5,1,1.5,2],"labelExpr":"''+datum.value","title":null}},"x2":{"field":"b1"},"y":{"field":"t","type":"nominal","scale":{"domain":["[1]Gluc","[1]/[U]Gluc","[U]Gluc","[U]Gln","[1,2]Gluc/[U]Gln","[3]/[3,4]Gluc"]},"axis":null},"stroke":{"field":"t","type":"nominal"}}},
{"transform":[{"filter":"isValid(datum.a1)"}],"mark":{"type":"bar","size":5.5,"fill":"white","strokeWidth":1.3},"encoding":{"x":{"field":"a0","type":"quantitative"},"x2":{"field":"a1"},"y":{"field":"t","type":"nominal","axis":null},"stroke":{"field":"t","type":"nominal"}}},
{"transform":[{"filter":"isValid(datum.b0)"}],"mark":{"type":"bar","size":5.5,"fill":"white","strokeWidth":1.3},"encoding":{"x":{"field":"b0","type":"quantitative"},"x2":{"field":"b1"},"y":{"field":"t","type":"nominal","axis":null},"stroke":{"field":"t","type":"nominal"}}},
{"transform":[{"filter":"datum.o"}],"mark":{"type":"point","shape":"triangle-right","filled":true,"size":45,"xOffset":-4,"opacity":1},"encoding":{"x":{"field":"b1","type":"quantitative"},"y":{"field":"t","type":"nominal","axis":null},"fill":{"field":"t","type":"nominal","legend":null}}},
{"data":{"name":"info"},"transform":[{"filter":"datum.p==='H'"}],"mark":{"type":"rule","color":"#c0003c","strokeDash":[1.5,1.5],"strokeWidth":1.2},"encoding":{"x":{"field":"v","type":"quantitative"}}},
{"data":{"name":"info"},"transform":[{"filter":"datum.p==='H'"}],"mark":{"type":"text","align":"right","baseline":"alphabetic","dx":-6,"dy":1,"fontSize":17},"encoding":{"text":{"field":"p"},"x":{"datum":2.325,"type":"quantitative"},"y":{"datum":"[3]/[3,4]Gluc","type":"nominal","axis":null}}}]},
{"width":183,"height":65,"title":"Fum ↔ Mal","data":{"name":"flux"},"transform":[{"filter":"datum.p==='L'"}],"layer":[
{"mark":{"type":"rule","strokeWidth":1.2},"encoding":{"x":{"field":"a0","type":"quantitative","scale":{"domain":[-0.23,42.5],"nice":false,"zero":false},"axis":{"values":[0,10,20,30,40],"labelExpr":"''+datum.value","title":null}},"x2":{"field":"b1"},"y":{"field":"t","type":"nominal","scale":{"domain":["[1]Gluc","[1]/[U]Gluc","[U]Gluc","[U]Gln","[1,2]Gluc/[U]Gln","[3]/[3,4]Gluc"]},"axis":null},"stroke":{"field":"t","type":"nominal"}}},
{"transform":[{"filter":"isValid(datum.a1)"}],"mark":{"type":"bar","size":5.5,"fill":"white","strokeWidth":1.3},"encoding":{"x":{"field":"a0","type":"quantitative"},"x2":{"field":"a1"},"y":{"field":"t","type":"nominal","axis":null},"stroke":{"field":"t","type":"nominal"}}},
{"transform":[{"filter":"isValid(datum.b0)"}],"mark":{"type":"bar","size":5.5,"fill":"white","strokeWidth":1.3},"encoding":{"x":{"field":"b0","type":"quantitative"},"x2":{"field":"b1"},"y":{"field":"t","type":"nominal","axis":null},"stroke":{"field":"t","type":"nominal"}}},
{"transform":[{"filter":"datum.o"}],"mark":{"type":"point","shape":"triangle-right","filled":true,"size":45,"xOffset":-4,"opacity":1},"encoding":{"x":{"field":"b1","type":"quantitative"},"y":{"field":"t","type":"nominal","axis":null},"fill":{"field":"t","type":"nominal","legend":null}}},
{"data":{"name":"info"},"transform":[{"filter":"datum.p==='L'"}],"mark":{"type":"rule","color":"#c0003c","strokeDash":[1.5,1.5],"strokeWidth":1.2},"encoding":{"x":{"field":"v","type":"quantitative"}}},
{"data":{"name":"info"},"transform":[{"filter":"datum.p==='L'"}],"mark":{"type":"text","align":"right","baseline":"alphabetic","dx":-6,"dy":1,"fontSize":17},"encoding":{"text":{"field":"p"},"x":{"datum":42.5,"type":"quantitative"},"y":{"datum":"[3]/[3,4]Gluc","type":"nominal","axis":null}}}]},
{"width":183,"height":65,"title":"Pyr → AcCoAₘᵢₜ + CO₂","data":{"name":"flux"},"transform":[{"filter":"datum.p==='P'"}],"layer":[
{"mark":{"type":"rule","strokeWidth":1.2},"encoding":{"x":{"field":"a0","type":"quantitative","scale":{"domain":[3.15,13.55],"nice":false,"zero":false},"axis":{"values":[4,6,8,10,12],"labelExpr":"''+datum.value","title":null}},"x2":{"field":"b1"},"y":{"field":"t","type":"nominal","scale":{"domain":["[1]Gluc","[1]/[U]Gluc","[U]Gluc","[U]Gln","[1,2]Gluc/[U]Gln","[3]/[3,4]Gluc"]},"axis":null},"stroke":{"field":"t","type":"nominal"}}},
{"transform":[{"filter":"isValid(datum.a1)"}],"mark":{"type":"bar","size":5.5,"fill":"white","strokeWidth":1.3},"encoding":{"x":{"field":"a0","type":"quantitative"},"x2":{"field":"a1"},"y":{"field":"t","type":"nominal","axis":null},"stroke":{"field":"t","type":"nominal"}}},
{"transform":[{"filter":"isValid(datum.b0)"}],"mark":{"type":"bar","size":5.5,"fill":"white","strokeWidth":1.3},"encoding":{"x":{"field":"b0","type":"quantitative"},"x2":{"field":"b1"},"y":{"field":"t","type":"nominal","axis":null},"stroke":{"field":"t","type":"nominal"}}},
{"data":{"name":"info"},"transform":[{"filter":"datum.p==='P'"}],"mark":{"type":"rule","color":"#c0003c","strokeDash":[1.5,1.5],"strokeWidth":1.2},"encoding":{"x":{"field":"v","type":"quantitative"}}},
{"data":{"name":"info"},"transform":[{"filter":"datum.p==='P'"}],"mark":{"type":"text","align":"right","baseline":"alphabetic","dx":-6,"dy":1,"fontSize":17},"encoding":{"text":{"field":"p"},"x":{"datum":13.55,"type":"quantitative"},"y":{"datum":"[3]/[3,4]Gluc","type":"nominal","axis":null}}}]}
]},

{"spacing":12,"hconcat":[
{"width":573,"height":73,"view":{"stroke":null},"data":{"values":[{"s":"Fluxes (nmol min⁻¹ mg protein⁻¹)"}]},"mark":{"type":"text","fontSize":11,"baseline":"middle","align":"center"},"encoding":{"text":{"field":"s"},"x":{"datum":0.6405,"type":"quantitative","scale":{"domain":[0,1],"nice":false,"zero":false},"axis":null},"y":{"datum":18,"type":"quantitative","scale":{"domain":[0,73],"reverse":true,"nice":false,"zero":false},"axis":{"title":"T","titleOpacity":0,"labels":false,"ticks":false,"domain":false,"titleX":-18,"titleY":36,"titleAlign":"center","titleBaseline":"middle","titleFontSize":12}}}},
{"width":183,"height":73,"view":{"stroke":null},"data":{"name":"key"},"layer":[
{"mark":{"type":"rule","color":"#f02222","strokeWidth":1.3},"encoding":{"x":{"field":"lb0","type":"quantitative","scale":{"domain":[0,100],"nice":false,"zero":false},"axis":null},"x2":{"field":"ub1"},"y":{"datum":36.7,"type":"quantitative","scale":{"domain":[0,73],"reverse":true,"nice":false,"zero":false},"axis":null}}},
{"mark":{"type":"rect","fill":"white","stroke":"#f02222","strokeWidth":1.3},"encoding":{"x":{"field":"lb0","type":"quantitative","axis":null},"x2":{"field":"lb1"},"y":{"datum":33,"type":"quantitative","axis":null},"y2":{"datum":40.5}}},
{"mark":{"type":"rect","fill":"white","stroke":"#f02222","strokeWidth":1.3},"encoding":{"x":{"field":"ub0","type":"quantitative","axis":null},"x2":{"field":"ub1"},"y":{"datum":33,"type":"quantitative","axis":null},"y2":{"datum":40.5}}},
{"mark":{"type":"rule","color":"black","strokeWidth":1},"encoding":{"x":{"field":"lb0","type":"quantitative","axis":null},"x2":{"field":"lb1"},"y":{"datum":45,"type":"quantitative","axis":null}}},
{"mark":{"type":"rule","color":"black","strokeWidth":1},"encoding":{"x":{"field":"ub0","type":"quantitative","axis":null},"x2":{"field":"ub1"},"y":{"datum":45,"type":"quantitative","axis":null}}},
{"transform":[{"fold":["lb0","ub0"],"as":["k","xv"]}],"mark":{"type":"point","shape":"triangle-left","filled":true,"color":"black","size":18,"xOffset":1.5,"opacity":1},"encoding":{"x":{"field":"xv","type":"quantitative","axis":null},"y":{"datum":45,"type":"quantitative","axis":null}}},
{"transform":[{"fold":["lb1","ub1"],"as":["k","xv"]}],"mark":{"type":"point","shape":"triangle-right","filled":true,"color":"black","size":18,"xOffset":-1.5,"opacity":1},"encoding":{"x":{"field":"xv","type":"quantitative","axis":null},"y":{"datum":45,"type":"quantitative","axis":null}}},
{"mark":{"type":"text","fontSize":10,"dx":18.3,"baseline":"middle","align":"center"},"encoding":{"text":{"value":"lb ± stdev"},"x":{"field":"lb0","type":"quantitative","axis":null},"y":{"datum":62,"type":"quantitative","axis":null}}},
{"mark":{"type":"text","fontSize":10,"dx":19.2,"baseline":"middle","align":"center"},"encoding":{"text":{"value":"ub ± stdev"},"x":{"field":"ub0","type":"quantitative","axis":null},"y":{"datum":62,"type":"quantitative","axis":null}}},
{"mark":{"type":"text","fontSize":10,"baseline":"middle","align":"center"},"encoding":{"text":{"value":"actual"},"x":{"field":"act","type":"quantitative","axis":null},"y":{"datum":48.5,"type":"quantitative","axis":null}}},
{"mark":{"type":"text","fontSize":10,"baseline":"middle","align":"center"},"encoding":{"text":{"value":"value"},"x":{"field":"act","type":"quantitative","axis":null},"y":{"datum":62,"type":"quantitative","axis":null}}},
{"mark":{"type":"rule","color":"#c0003c","strokeDash":[1.5,1.5],"strokeWidth":1.2},"encoding":{"x":{"field":"act","type":"quantitative","axis":null},"y":{"datum":28,"type":"quantitative","axis":null},"y2":{"datum":73}}},
{"mark":{"type":"rect","filled":false,"stroke":"black","strokeWidth":3,"cornerRadius":3},"encoding":{"x":{"datum":0,"type":"quantitative","axis":null},"x2":{"datum":100},"y":{"datum":28,"type":"quantitative","axis":null},"y2":{"datum":73}}}]}
]}
],
"config":{
"font":"Lato",
"view":{"stroke":"black","strokeWidth":3},
"scale":{"bandPaddingInner":0,"barBandPaddingInner":0,"bandPaddingOuter":0},
"title":{"fontSize":11,"fontWeight":"normal","offset":14,"color":"black"},
"axis":{"domain":false,"grid":false,"ticks":false,"labelFontSize":9,"labelColor":"#333333","labelPadding":6,"labelFlush":false}
}
}
